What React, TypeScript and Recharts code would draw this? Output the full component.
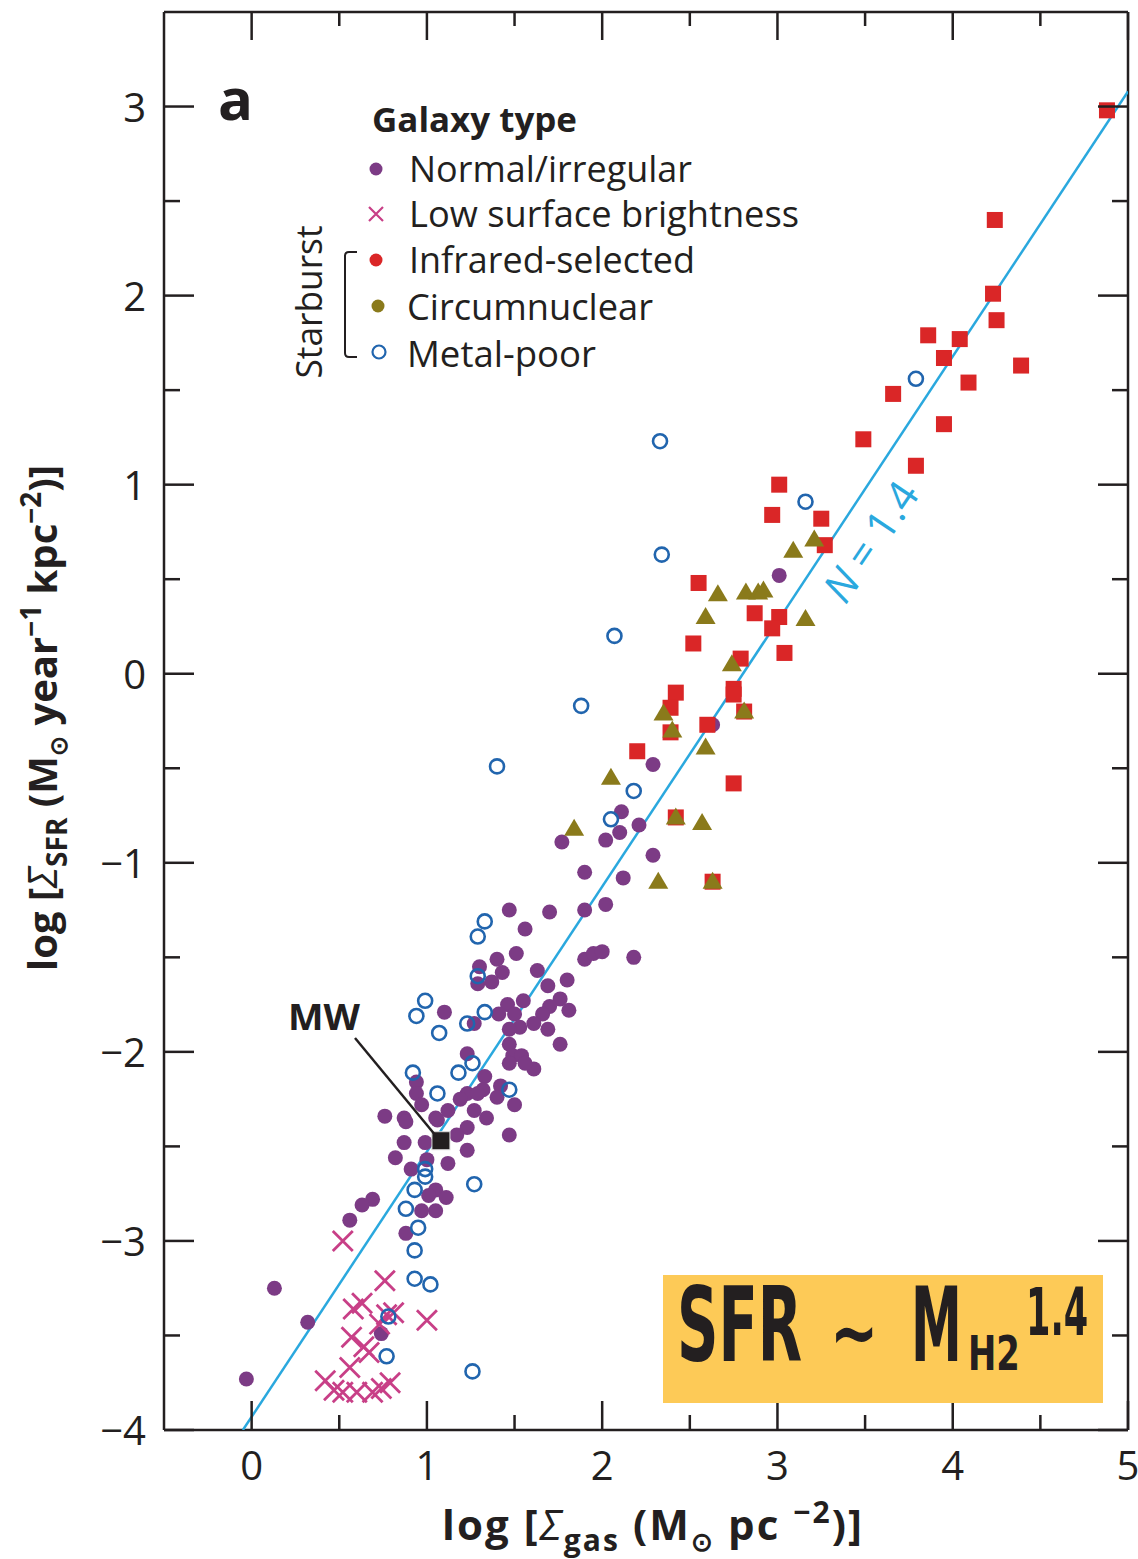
import React from "react";
import { ScatterChart, Scatter, XAxis, YAxis } from "recharts";

// log gas surface density (x) vs log SFR surface density (y)
const normalIrregular = [
  { x: 3.01, y: 0.52 }, { x: 2.63, y: -0.27 }, { x: 2.29, y: -0.48 }, { x: 2.11, y: -0.73 },
  { x: 2.21, y: -0.8 }, { x: 1.77, y: -0.89 }, { x: 2.02, y: -0.88 }, { x: 2.1, y: -0.84 },
  { x: 2.29, y: -0.96 }, { x: 1.9, y: -1.05 }, { x: 2.12, y: -1.08 }, { x: 1.7, y: -1.26 },
  { x: 1.9, y: -1.25 }, { x: 2.02, y: -1.22 }, { x: 1.47, y: -1.25 }, { x: 1.56, y: -1.35 },
  { x: 1.51, y: -1.48 }, { x: 1.4, y: -1.51 }, { x: 1.3, y: -1.55 }, { x: 1.43, y: -1.58 },
  { x: 1.37, y: -1.63 }, { x: 1.29, y: -1.64 }, { x: 1.63, y: -1.57 }, { x: 1.69, y: -1.65 },
  { x: 1.8, y: -1.62 }, { x: 1.9, y: -1.51 }, { x: 1.95, y: -1.48 }, { x: 2.0, y: -1.47 },
  { x: 2.18, y: -1.5 }, { x: 1.76, y: -1.72 }, { x: 1.81, y: -1.78 }, { x: 1.7, y: -1.76 },
  { x: 1.66, y: -1.8 }, { x: 1.61, y: -1.85 }, { x: 1.69, y: -1.88 }, { x: 1.55, y: -1.73 },
  { x: 1.46, y: -1.75 }, { x: 1.5, y: -1.8 }, { x: 1.41, y: -1.8 }, { x: 1.53, y: -1.87 },
  { x: 1.47, y: -1.88 }, { x: 1.76, y: -1.96 }, { x: 1.47, y: -1.96 }, { x: 1.49, y: -2.02 },
  { x: 1.54, y: -2.02 }, { x: 1.47, y: -2.06 }, { x: 1.61, y: -2.09 }, { x: 1.56, y: -2.06 },
  { x: 1.1, y: -1.79 }, { x: 1.27, y: -1.85 }, { x: 1.23, y: -2.01 }, { x: 0.94, y: -2.16 },
  { x: 0.94, y: -2.22 }, { x: 1.33, y: -2.13 }, { x: 1.32, y: -2.2 }, { x: 1.42, y: -2.18 },
  { x: 1.4, y: -2.24 }, { x: 1.5, y: -2.28 }, { x: 1.23, y: -2.22 }, { x: 1.19, y: -2.25 },
  { x: 1.12, y: -2.31 }, { x: 1.27, y: -2.31 }, { x: 0.76, y: -2.34 }, { x: 0.87, y: -2.35 },
  { x: 1.05, y: -2.35 }, { x: 1.34, y: -2.35 }, { x: 0.88, y: -2.37 }, { x: 0.87, y: -2.48 },
  { x: 0.97, y: -2.28 }, { x: 1.06, y: -2.36 }, { x: 1.29, y: -2.22 }, { x: 1.47, y: -2.44 },
  { x: 1.23, y: -2.4 }, { x: 1.17, y: -2.44 }, { x: 1.23, y: -2.52 }, { x: 0.99, y: -2.48 },
  { x: 0.82, y: -2.56 }, { x: 0.91, y: -2.62 }, { x: 1.0, y: -2.57 }, { x: 1.12, y: -2.59 },
  { x: 1.05, y: -2.73 }, { x: 1.11, y: -2.77 }, { x: 1.01, y: -2.76 }, { x: 0.97, y: -2.84 },
  { x: 1.05, y: -2.84 }, { x: 0.69, y: -2.78 }, { x: 0.63, y: -2.81 }, { x: 0.56, y: -2.89 },
  { x: 0.88, y: -2.96 }, { x: 0.13, y: -3.25 }, { x: 0.32, y: -3.43 }, { x: -0.03, y: -3.73 },
  { x: 0.74, y: -3.49 },
];

const lowSurface = [
  { x: 0.52, y: -3.0 }, { x: 0.76, y: -3.21 }, { x: 0.58, y: -3.36 }, { x: 0.63, y: -3.33 },
  { x: 0.81, y: -3.38 }, { x: 0.77, y: -3.39 }, { x: 0.73, y: -3.44 }, { x: 1.0, y: -3.42 },
  { x: 0.57, y: -3.51 }, { x: 0.64, y: -3.56 }, { x: 0.67, y: -3.59 }, { x: 0.56, y: -3.67 },
  { x: 0.42, y: -3.74 }, { x: 0.47, y: -3.79 }, { x: 0.52, y: -3.8 }, { x: 0.6, y: -3.8 },
  { x: 0.69, y: -3.8 }, { x: 0.74, y: -3.78 }, { x: 0.79, y: -3.75 },
];

const infrared = [
  { x: 4.88, y: 2.98 }, { x: 4.24, y: 2.4 }, { x: 4.23, y: 2.01 }, { x: 4.25, y: 1.87 },
  { x: 3.86, y: 1.79 }, { x: 4.04, y: 1.77 }, { x: 3.95, y: 1.67 }, { x: 4.39, y: 1.63 },
  { x: 4.09, y: 1.54 }, { x: 3.66, y: 1.48 }, { x: 3.95, y: 1.32 }, { x: 3.49, y: 1.24 },
  { x: 3.79, y: 1.1 }, { x: 3.01, y: 1.0 }, { x: 2.97, y: 0.84 }, { x: 3.25, y: 0.82 },
  { x: 3.27, y: 0.68 }, { x: 2.55, y: 0.48 }, { x: 2.87, y: 0.32 }, { x: 3.01, y: 0.3 },
  { x: 2.97, y: 0.24 }, { x: 2.52, y: 0.16 }, { x: 3.04, y: 0.11 }, { x: 2.79, y: 0.08 },
  { x: 2.75, y: -0.08 }, { x: 2.75, y: -0.11 }, { x: 2.42, y: -0.1 }, { x: 2.39, y: -0.18 },
  { x: 2.81, y: -0.2 }, { x: 2.6, y: -0.27 }, { x: 2.39, y: -0.31 }, { x: 2.2, y: -0.41 },
  { x: 2.75, y: -0.58 }, { x: 2.42, y: -0.76 }, { x: 2.63, y: -1.1 },
];

const circumnuclear = [
  { x: 3.21, y: 0.71 }, { x: 3.09, y: 0.65 }, { x: 2.66, y: 0.42 }, { x: 2.82, y: 0.43 },
  { x: 2.89, y: 0.43 }, { x: 2.92, y: 0.44 }, { x: 2.59, y: 0.3 }, { x: 3.16, y: 0.29 },
  { x: 2.74, y: 0.05 }, { x: 2.35, y: -0.21 }, { x: 2.81, y: -0.2 }, { x: 2.4, y: -0.3 },
  { x: 2.59, y: -0.39 }, { x: 2.05, y: -0.55 }, { x: 2.42, y: -0.76 }, { x: 2.57, y: -0.79 },
  { x: 1.84, y: -0.82 }, { x: 2.32, y: -1.1 }, { x: 2.63, y: -1.1 },
];

const metalPoor = [
  { x: 3.79, y: 1.56 }, { x: 2.33, y: 1.23 }, { x: 3.16, y: 0.91 }, { x: 2.34, y: 0.63 },
  { x: 2.07, y: 0.2 }, { x: 1.88, y: -0.17 }, { x: 1.4, y: -0.49 }, { x: 2.18, y: -0.62 },
  { x: 2.05, y: -0.77 }, { x: 1.33, y: -1.31 }, { x: 1.29, y: -1.39 }, { x: 1.29, y: -1.6 },
  { x: 1.33, y: -1.79 }, { x: 0.99, y: -1.73 }, { x: 0.94, y: -1.81 }, { x: 1.07, y: -1.9 },
  { x: 1.23, y: -1.85 }, { x: 1.26, y: -2.06 }, { x: 1.18, y: -2.11 }, { x: 0.92, y: -2.11 },
  { x: 1.06, y: -2.22 }, { x: 1.47, y: -2.2 }, { x: 0.99, y: -2.62 }, { x: 0.99, y: -2.66 },
  { x: 1.27, y: -2.7 }, { x: 0.93, y: -2.73 }, { x: 0.88, y: -2.83 }, { x: 0.95, y: -2.93 },
  { x: 0.93, y: -3.05 }, { x: 0.93, y: -3.2 }, { x: 1.02, y: -3.23 }, { x: 0.78, y: -3.4 },
  { x: 0.77, y: -3.61 }, { x: 1.26, y: -3.69 },
];

const milkyWay = [{ x: 1.08, y: -2.47 }];

// N = 1.4 power-law line, end points
const fitLine = [{ x: -0.05, y: -4 }, { x: 5, y: 3.08 }];

const xTicks = [0, 0.5, 1, 1.5, 2, 2.5, 3, 3.5, 4, 4.5, 5];
const yTicks = [-4, -3.5, -3, -2.5, -2, -1.5, -1, -0.5, 0, 0.5, 1, 1.5, 2, 2.5, 3];

const FONT = "'Open Sans', 'Liberation Sans', sans-serif";
const NARROW = "'DejaVu Sans Condensed', 'DejaVu Sans', sans-serif";
const INK = "#231f20";
const PURPLE = "#7c3b85";
const RED = "#da2627";
const OLIVE = "#8a7a1b";
const BLUE = "#2165ae";
const PINK = "#c83f87";
const LINE = "#2aa8de";

const fmt = (v: number) => (v < 0 ? "\u2212" + Math.abs(v) : String(v));

const BottomTick = (p: any) => {
  const v = p.payload.value;
  const major = Number.isInteger(v);
  return (
    <g>
      <line x1={p.x} x2={p.x} y1={p.y} y2={p.y - (major ? 29 : 15)} stroke={INK} strokeWidth={2.5} />
      {major && (
        <text x={p.x} y={p.y + 50} textAnchor="middle" fontFamily={FONT} fontSize={40} fill={INK}>
          {fmt(v)}
        </text>
      )}
    </g>
  );
};

const TopTick = (p: any) => {
  const major = Number.isInteger(p.payload.value);
  return <line x1={p.x} x2={p.x} y1={p.y} y2={p.y + (major ? 28 : 14)} stroke={INK} strokeWidth={2.5} />;
};

const LeftTick = (p: any) => {
  const v = p.payload.value;
  const major = Number.isInteger(v);
  return (
    <g>
      <line x1={p.x} x2={p.x + (major ? 30 : 16)} y1={p.y} y2={p.y} stroke={INK} strokeWidth={2.5} />
      {major && (
        <text x={p.x - 18} y={p.y + 15} textAnchor="end" fontFamily={FONT} fontSize={40} fill={INK}>
          {fmt(v)}
        </text>
      )}
    </g>
  );
};

const RightTick = (p: any) => {
  const major = Number.isInteger(p.payload.value);
  return <line x1={p.x} x2={p.x - (major ? 30 : 16)} y1={p.y} y2={p.y} stroke={INK} strokeWidth={2.5} />;
};

const DotShape = (p: any) => <circle cx={p.cx} cy={p.cy} r={7.5} fill={PURPLE} />;
const CrossShape = (p: any) => (
  <path
    d={`M${p.cx - 10},${p.cy - 10}L${p.cx + 10},${p.cy + 10}M${p.cx - 10},${p.cy + 10}L${p.cx + 10},${p.cy - 10}`}
    stroke={PINK}
    strokeWidth={2.8}
    fill="none"
  />
);
const SquareShape = (p: any) => <rect x={p.cx - 8} y={p.cy - 8} width={16} height={16} fill={RED} />;
const TriangleShape = (p: any) => (
  <path d={`M${p.cx},${p.cy - 10}L${p.cx + 10},${p.cy + 7}L${p.cx - 10},${p.cy + 7}Z`} fill={OLIVE} />
);
const RingShape = (p: any) => <circle cx={p.cx} cy={p.cy} r={7} fill="none" stroke={BLUE} strokeWidth={2.6} />;
const MWShape = (p: any) => (
  <rect x={p.cx - 9} y={p.cy - 9} width={18} height={18} fill={INK} stroke="#ddd" strokeWidth={1} />
);
const NoShape = () => <g />;

const Overlay = () => (
  <svg width={1138} height={1559} style={{ position: "absolute", left: 0, top: 0, pointerEvents: "none" }}>
    <text x={218} y={120} fontFamily={FONT} fontWeight={700} fontSize={58} fill={INK}>a</text>

    <text x={372} y={132} fontFamily={FONT} fontWeight={700} fontSize={34} fill={INK} textLength={205} lengthAdjust="spacingAndGlyphs">
      Galaxy type
    </text>
    <circle cx={376} cy={169} r={6.5} fill={PURPLE} />
    <text x={409} y={182} fontFamily={FONT} fontSize={36} fill={INK} textLength={283} lengthAdjust="spacingAndGlyphs">
      Normal/irregular
    </text>
    <path d="M369,207L383,221M369,221L383,207" stroke={PINK} strokeWidth={2.2} />
    <text x={409} y={227} fontFamily={FONT} fontSize={36} fill={INK} textLength={390} lengthAdjust="spacingAndGlyphs">
      Low surface brightness
    </text>
    <circle cx={376} cy={260} r={6.5} fill={RED} />
    <text x={409} y={273} fontFamily={FONT} fontSize={36} fill={INK} textLength={286} lengthAdjust="spacingAndGlyphs">
      Infrared-selected
    </text>
    <circle cx={378} cy={306} r={6.5} fill={OLIVE} />
    <text x={407} y={320} fontFamily={FONT} fontSize={36} fill={INK} textLength={246} lengthAdjust="spacingAndGlyphs">
      Circumnuclear
    </text>
    <circle cx={379} cy={352} r={6.5} fill="none" stroke={BLUE} strokeWidth={2.2} />
    <text x={407} y={367} fontFamily={FONT} fontSize={36} fill={INK} textLength={189} lengthAdjust="spacingAndGlyphs">
      Metal-poor
    </text>
    <text
      transform="translate(322,302) rotate(-90)"
      textAnchor="middle"
      fontFamily={FONT}
      fontSize={36}
      fill={INK}
      textLength={153}
      lengthAdjust="spacingAndGlyphs"
    >
      Starburst
    </text>
    <path d="M357,252L349,252Q345,252 345,256L345,353Q345,357 349,357L357,357" fill="none" stroke={INK} strokeWidth={2} />

    <text transform="translate(883,550) rotate(-56)" textAnchor="middle" fontFamily={FONT} fontSize={42} fill={LINE}>
      <tspan fontStyle="italic">N</tspan> = 1.4
    </text>

    <text x={288} y={1030} fontFamily={FONT} fontWeight={700} fontSize={36} fill={INK} textLength={72} lengthAdjust="spacingAndGlyphs">
      MW
    </text>
    <line x1={355} y1={1038} x2={436} y2={1136} stroke={INK} strokeWidth={2.5} />

    <rect x={663} y={1275} width={440} height={128} fill="#fdca57" />
    <g fontFamily={NARROW} fontWeight={700} fill={INK}>
      <text transform="translate(677,1361) scale(0.8,1.3)" fontSize={80}>SFR</text>
      <text transform="translate(830,1360) scale(0.8,1)" fontSize={80}>~</text>
      <text transform="translate(911,1361) scale(0.71,1.3)" fontSize={80}>M</text>
      <text transform="translate(968,1370) scale(0.94,1.2)" fontSize={40}>H2</text>
      <text transform="translate(1026,1335) scale(0.78,1.32)" fontSize={50}>1.4</text>
    </g>

    <text
      x={652}
      y={1540}
      textAnchor="middle"
      fontFamily={FONT}
      fontWeight={700}
      fontSize={42}
      fill={INK}
      textLength={420}
      lengthAdjust="spacing"
    >
      log [<tspan fontStyle="italic" fontWeight={400}>Σ</tspan>
      <tspan fontSize={30} dy={11}>gas</tspan>
      <tspan dy={-11}> (M</tspan>
      <tspan fontSize={26} dy={11}>⊙</tspan>
      <tspan dy={-11}> pc </tspan>
      <tspan fontSize={30} dy={-17}>−2</tspan>
      <tspan dy={17}>)]</tspan>
    </text>

    <text transform="translate(57,718) rotate(-90)" textAnchor="middle" fontFamily={FONT} fontWeight={700} fontSize={40} fill={INK}>
      log [<tspan fontStyle="italic" fontWeight={400}>Σ</tspan>
      <tspan fontSize={28} dy={10}>SFR</tspan>
      <tspan dy={-10}> (M</tspan>
      <tspan fontSize={24} dy={10}>⊙</tspan>
      <tspan dy={-10}> year</tspan>
      <tspan fontSize={28} dy={-16}>−1</tspan>
      <tspan dy={16}> kpc</tspan>
      <tspan fontSize={28} dy={-16}>−2</tspan>
      <tspan dy={16}>)]</tspan>
    </text>
  </svg>
);

export default function App() {
  return (
    <div style={{ position: "absolute", left: 0, top: 0, width: 1138, height: 1559, background: "#fff" }}>
      <ScatterChart width={1138} height={1559} margin={{ top: 11, right: 9, bottom: 69, left: 104 }}>
        <XAxis
          xAxisId="b"
          type="number"
          dataKey="x"
          domain={[-0.5, 5]}
          ticks={xTicks}
          interval={0}
          orientation="bottom"
          height={60}
          tickSize={0}
          tickMargin={0}
          tickLine={false}
          tick={BottomTick}
          axisLine={{ stroke: INK, strokeWidth: 2.5 }}
          allowDataOverflow
        />
        <XAxis
          xAxisId="t"
          type="number"
          dataKey="x"
          domain={[-0.5, 5]}
          ticks={xTicks}
          interval={0}
          orientation="top"
          height={1}
          tickSize={0}
          tickMargin={0}
          tickLine={false}
          tick={TopTick}
          axisLine={{ stroke: INK, strokeWidth: 2.5 }}
          allowDataOverflow
        />
        <YAxis
          yAxisId="l"
          type="number"
          dataKey="y"
          domain={[-4, 3.5]}
          ticks={yTicks}
          interval={0}
          orientation="left"
          width={60}
          tickSize={0}
          tickMargin={0}
          tickLine={false}
          tick={LeftTick}
          axisLine={{ stroke: INK, strokeWidth: 2.5 }}
          allowDataOverflow
        />
        <YAxis
          yAxisId="r"
          type="number"
          dataKey="y"
          domain={[-4, 3.5]}
          ticks={yTicks}
          interval={0}
          orientation="right"
          width={1}
          tickSize={0}
          tickMargin={0}
          tickLine={false}
          tick={RightTick}
          axisLine={{ stroke: INK, strokeWidth: 2.5 }}
          allowDataOverflow
        />
        <Scatter xAxisId="t" yAxisId="r" data={fitLine} shape={NoShape} isAnimationActive={false} />
        <Scatter
          xAxisId="b"
          yAxisId="l"
          data={fitLine}
          line={{ stroke: LINE, strokeWidth: 2.5 }}
          shape={NoShape}
          isAnimationActive={false}
        />
        <Scatter xAxisId="b" yAxisId="l" data={normalIrregular} shape={DotShape} isAnimationActive={false} />
        <Scatter xAxisId="b" yAxisId="l" data={lowSurface} shape={CrossShape} isAnimationActive={false} />
        <Scatter xAxisId="b" yAxisId="l" data={metalPoor} shape={RingShape} isAnimationActive={false} />
        <Scatter xAxisId="b" yAxisId="l" data={infrared} shape={SquareShape} isAnimationActive={false} />
        <Scatter xAxisId="b" yAxisId="l" data={circumnuclear} shape={TriangleShape} isAnimationActive={false} />
        <Scatter xAxisId="b" yAxisId="l" data={milkyWay} shape={MWShape} isAnimationActive={false} />
      </ScatterChart>
      <Overlay />
    </div>
  );
}
